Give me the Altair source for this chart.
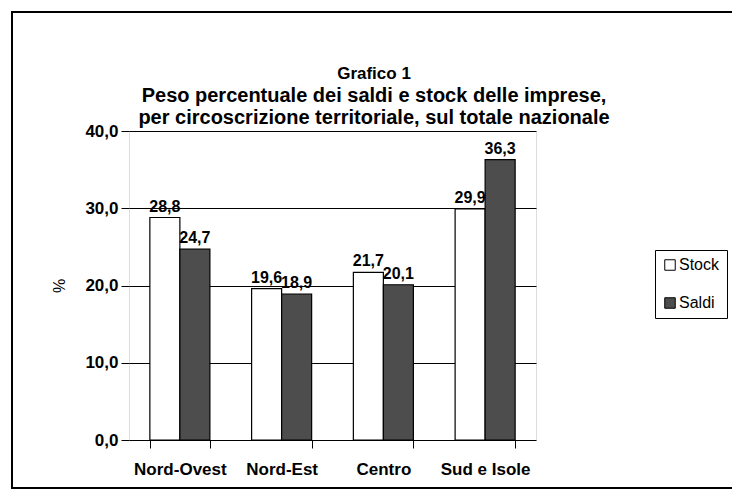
import altair as alt
import pandas as pd

regions = ["Nord-Ovest", "Nord-Est", "Centro", "Sud e Isole"]
stock = [28.8, 19.6, 21.7, 29.9]
saldi = [24.7, 18.9, 20.1, 36.3]
series = ["Stock", "Saldi"]
series_colors = ["white", "#4d4d4d"]
y_ticks = [0, 10, 20, 30, 40]
title_head = "Grafico 1"
title_lines = [
    "Peso percentuale dei saldi e stock delle imprese,",
    "per circoscrizione territoriale, sul totale nazionale",
]

rows = []
for r, s, d in zip(regions, stock, saldi):
    rows.append({"regione": r, "serie": "Stock", "valore": s})
    rows.append({"regione": r, "serie": "Saldi", "valore": d})
df = pd.DataFrame(rows)

FONT = "Liberation Sans"
PLOT_W, PLOT_H = 407, 309

x = alt.X(
    "regione:N",
    sort=regions,
    scale=alt.Scale(paddingInner=0.41, paddingOuter=0.205),
    axis=alt.Axis(
        title=None, labelAngle=0, labelFont=FONT, labelFontWeight="bold",
        labelFontSize=17, labelColor="black", tickBand="extent", tickSize=8,
        tickColor="black", tickWidth=1, domain=False, grid=False, labelPadding=13,
    ),
)
xo = alt.XOffset("serie:N", sort=series, scale=alt.Scale(paddingInner=0, paddingOuter=0))
y = alt.Y(
    "valore:Q",
    scale=alt.Scale(domain=[0, 40], nice=False),
    axis=alt.Axis(
        values=y_ticks, title="%", titleFont=FONT, titleFontSize=16,
        titleFontWeight="normal", titleColor="black", titleX=-62, titleY=PLOT_H / 2,
        titleAngle=-90,
        labelExpr="replace(format(datum.value, '.1f'), '.', ',')",
        labelFont=FONT, labelFontWeight="bold", labelFontSize=17, labelColor="black",
        tickSize=8, tickColor="black", tickWidth=1, labelPadding=3,
        domain=False, grid=True, gridColor="black", gridWidth=1,
    ),
)

bars = alt.Chart(df).mark_bar(stroke="black", strokeWidth=1.2).encode(
    x=x, xOffset=xo, y=y,
    color=alt.Color(
        "serie:N",
        scale=alt.Scale(domain=series, range=series_colors),
        legend=alt.Legend(
            title=None, orient="none", legendX=526, legendY=119,
            strokeColor="black", padding=7, fillColor="white",
            symbolType="square", symbolSize=110, symbolStrokeColor="black",
            symbolStrokeWidth=1, labelFont=FONT, labelFontSize=16,
            labelColor="black", rowPadding=22, labelOffset=1,
        ),
    ),
)

labels = alt.Chart(df).transform_calculate(
    label="replace(format(datum.valore, '.1f'), '.', ',')"
).mark_text(
    font=FONT, fontWeight="bold", fontSize=16, color="black",
    baseline="bottom", dy=-3,
).encode(x=x, xOffset=xo, y=y, text="label:N")

head = alt.Chart(alt.Data(values=[{"t": title_head}])).mark_text(
    font=FONT, fontWeight="bold", fontSize=17, color="black",
    align="center", baseline="middle",
).encode(x=alt.value(245), y=alt.value(-57), text="t:N")

title = alt.Chart(alt.Data(values=[{"t": "\n".join(title_lines)}])).mark_text(
    font=FONT, fontWeight="bold", fontSize=20, color="black",
    align="center", baseline="middle", lineBreak="\n", lineHeight=22,
).encode(x=alt.value(245), y=alt.value(-35), text="t:N")

border = alt.Chart(alt.Data(values=[{"a": 1}])).mark_rect(
    fill=None, stroke="black", strokeWidth=2
).encode(
    x=alt.value(-117), x2=alt.value(604), y=alt.value(-119), y2=alt.value(357)
)

chart = alt.layer(bars, labels, head, title, border).properties(
    width=PLOT_W,
    height=PLOT_H,
    autosize=alt.AutoSizeParams(type="none"),
    padding={"left": 121, "top": 123, "right": 196, "bottom": 51},
).configure_view(stroke="black", strokeWidth=1.5).configure(background="white")

chart.save("out.html", embed_options={"renderer": "svg", "actions": False})
